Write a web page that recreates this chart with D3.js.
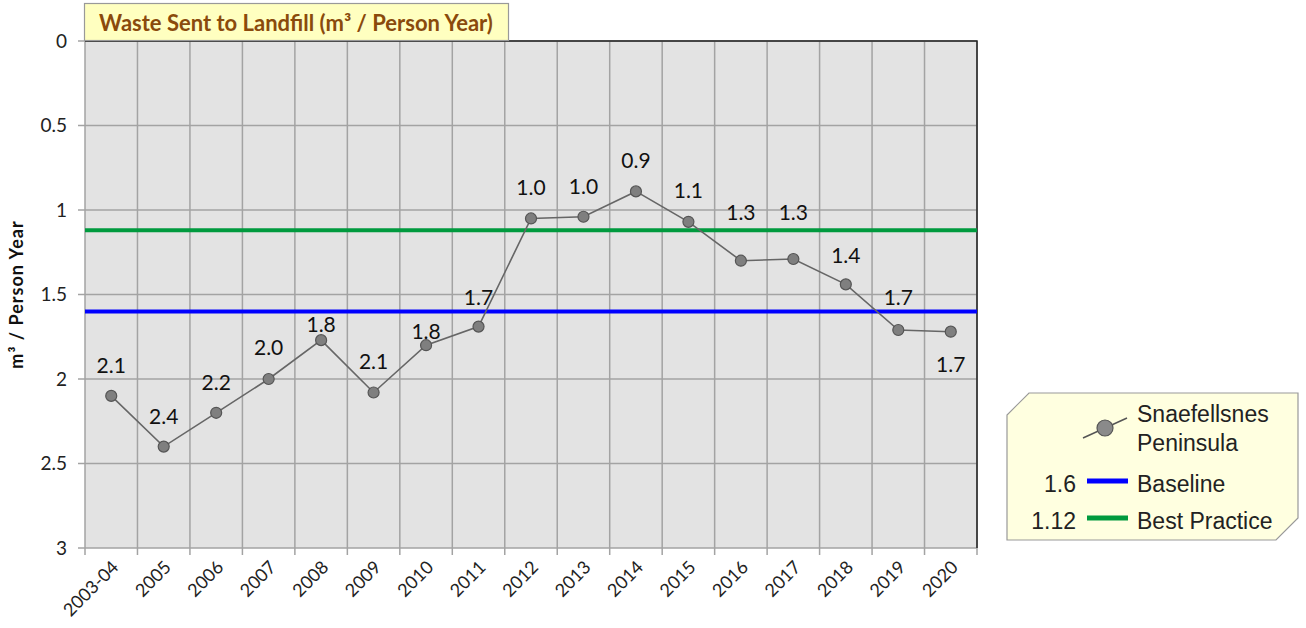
<!DOCTYPE html>
<html>
<head>
<meta charset="utf-8">
<script src="https://cdn.jsdelivr.net/npm/d3@7"></script>
<style>
	body { margin: 0; background: #fff; }
	svg { display: block; }
</style>
</head>
<body>
<div id="chart"></div>
<script>

// categories + values
var years = ["2003-04","2005","2006","2007","2008","2009","2010","2011","2012",
	"2013","2014","2015","2016","2017","2018","2019","2020"];
var waste = [2.10,2.40,2.20,2.00,1.77,2.08,1.80,1.69,1.05,1.04,0.89,1.07,1.30,1.29,1.44,1.71,1.72];
var valueLabels = ["2.1","2.4","2.2","2.0","1.8","2.1","1.8","1.7","1.0","1.0","0.9","1.1","1.3","1.3","1.4","1.7","1.7"];
var yTicks = [0,0.5,1,1.5,2,2.5,3];

// reference lines
var baseline = 1.6;
var bestPractice = 1.12;

// label placement (vertical offset of each data label from its point)
var labelOffset = [-30,-30,-30,-31,-15,-31,-14,-29,-31,-30,-31,-31,-48,-46,-29,-32,33];

var width = 1306, height = 628;
var margin = { top: 41, right: 329, bottom: 80, left: 85 };

var calibri = "Lato, 'Open Sans', sans-serif";
var arial = "'Liberation Sans', Arial, sans-serif";

var svg = d3.select("#chart").append("svg")
	.attr("width", width)
	.attr("height", height);

var x = d3.scaleBand()
	.domain(years)
	.range([margin.left, width - margin.right]);

var y = d3.scaleLinear()
	.domain([0, 3])
	.range([margin.top, height - margin.bottom]);	// inverted: 0 at top

var plotW = width - margin.right - margin.left,
	plotH = height - margin.bottom - margin.top;

// plot background
svg.append("rect")
	.attr("x", margin.left).attr("y", margin.top)
	.attr("width", plotW).attr("height", plotH)
	.attr("fill", "#e3e3e3");

// horizontal grid
svg.append("g").selectAll("line").data(yTicks).enter().append("line")
	.attr("x1", margin.left - 7).attr("x2", width - margin.right)
	.attr("y1", function(d){ return y(d) }).attr("y2", function(d){ return y(d) })
	.attr("stroke", "#a3a3a3").attr("stroke-width", 1.5);

// vertical grid (category boundaries) + ticks below
var bounds = years.map(function(d){ return x(d) }).concat([width - margin.right]);
svg.append("g").selectAll("line").data(bounds).enter().append("line")
	.attr("x1", function(d){ return d }).attr("x2", function(d){ return d })
	.attr("y1", margin.top).attr("y2", height - margin.bottom + 7)
	.attr("stroke", "#a3a3a3").attr("stroke-width", 1.5);

// dark top + right border
svg.append("path")
	.attr("d", "M" + margin.left + "," + margin.top + "H" + (width - margin.right) + "V" + (height - margin.bottom))
	.attr("fill", "none").attr("stroke", "#222").attr("stroke-width", 1.5);

// y tick labels
svg.append("g").selectAll("text").data(yTicks).enter().append("text")
	.attr("x", 67).attr("y", function(d){ return y(d) })
	.attr("dy", "0.35em")
	.attr("text-anchor", "end")
	.style("font-family", calibri)
	.style("font-size", "19px")
	.attr("fill", "#222")
	.text(function(d){ return d });

// x tick labels
svg.append("g").selectAll("text").data(years).enter().append("text")
	.attr("transform", function(d){ return "translate(" + (x(d) + x.bandwidth()/2 + 4) + "," + (height - margin.bottom + 16) + ") rotate(-45)" })
	.attr("text-anchor", "end")
	.attr("dy", "0.35em")
	.style("font-family", calibri)
	.style("font-size", "18px")
	.attr("fill", "#222")
	.text(function(d){ return d });

// y axis title
svg.append("text")
	.attr("transform", "translate(23," + (margin.top + plotH/2) + ") rotate(-90)")
	.attr("text-anchor", "middle")
	.style("font-family", calibri)
	.style("font-size", "18px")
	.style("font-weight", "bold")
	.style("letter-spacing", "1px")
	.attr("fill", "#111")
	.text("m³ / Person Year");

// reference lines
svg.append("line")
	.attr("x1", margin.left).attr("x2", width - margin.right)
	.attr("y1", y(bestPractice)).attr("y2", y(bestPractice))
	.attr("stroke", "#009a3e").attr("stroke-width", 4);
svg.append("line")
	.attr("x1", margin.left).attr("x2", width - margin.right)
	.attr("y1", y(baseline)).attr("y2", y(baseline))
	.attr("stroke", "#0000ff").attr("stroke-width", 4);

// series
var cx = function(d,i){ return x(years[i]) + x.bandwidth()/2 };
var line = d3.line()
	.x(function(d,i){ return cx(d,i) })
	.y(function(d){ return y(d) });

svg.append("path")
	.datum(waste)
	.attr("d", line)
	.attr("fill", "none")
	.attr("stroke", "#666")
	.attr("stroke-width", 1.6);

svg.append("g").selectAll("circle").data(waste).enter().append("circle")
	.attr("cx", cx)
	.attr("cy", function(d){ return y(d) })
	.attr("r", 5.5)
	.attr("fill", "#7f7f7f")
	.attr("stroke", "#555")
	.attr("stroke-width", 1.2);

// data labels
svg.append("g").selectAll("text").data(waste).enter().append("text")
	.attr("x", cx)
	.attr("y", function(d,i){ return y(d) + labelOffset[i] })
	.attr("dy", "0.35em")
	.attr("text-anchor", "middle")
	.style("font-family", calibri)
	.style("font-size", "21px")
	.attr("fill", "#111")
	.text(function(d,i){ return valueLabels[i] });

// title box
var title = svg.append("g");
title.append("rect")
	.attr("x", 84.5).attr("y", 3.5)
	.attr("width", 424).attr("height", 37)
	.attr("fill", "#ffffc0")
	.attr("stroke", "#999").attr("stroke-width", 1.2);
title.append("text")
	.attr("x", 296).attr("y", 23)
	.attr("dy", "0.35em")
	.attr("text-anchor", "middle")
	.style("font-family", calibri)
	.style("font-size", "22px")
	.style("font-weight", "bold")
	.attr("fill", "#8a4a0c")
	.text("Waste Sent to Landfill (m³ / Person Year)");

// legend
var lg = svg.append("g");
var lx0 = 1007, ly0 = 393, lx1 = 1298, ly1 = 540, cut = 22;
lg.append("path")
	.attr("d", "M" + (lx0 + cut) + "," + ly0 + "H" + lx1 + "V" + (ly1 - cut) + "L" + (lx1 - cut) + "," + ly1 +
		"H" + lx0 + "V" + (ly0 + cut) + "Z")
	.attr("fill", "#ffffe0")
	.attr("stroke", "#999").attr("stroke-width", 1.2);

lg.append("line")
	.attr("x1", 1083).attr("y1", 438).attr("x2", 1127).attr("y2", 418)
	.attr("stroke", "#555").attr("stroke-width", 1.5);
lg.append("circle")
	.attr("cx", 1105).attr("cy", 428).attr("r", 8)
	.attr("fill", "#8a8a8a").attr("stroke", "#555").attr("stroke-width", 1.2);
lg.append("text").attr("x", 1137).attr("y", 422)
	.style("font-family", arial).style("font-size", "23px").attr("fill", "#222")
	.text("Snaefellsnes");
lg.append("text").attr("x", 1137).attr("y", 451)
	.style("font-family", arial).style("font-size", "23px").attr("fill", "#222")
	.text("Peninsula");

var refItems = [
	{ value: baseline, name: "Baseline", color: "#0000ff", y: 481 },
	{ value: bestPractice, name: "Best Practice", color: "#009a3e", y: 518 }
];
refItems.forEach(function(r){
	lg.append("text").attr("x", 1076).attr("y", r.y + 3).attr("dy", "0.35em")
		.attr("text-anchor", "end")
		.style("font-family", arial).style("font-size", "23px").attr("fill", "#222")
		.text(r.value);
	lg.append("line")
		.attr("x1", 1087).attr("x2", 1128).attr("y1", r.y).attr("y2", r.y)
		.attr("stroke", r.color).attr("stroke-width", 5);
	lg.append("text").attr("x", 1137).attr("y", r.y + 3).attr("dy", "0.35em")
		.style("font-family", arial).style("font-size", "23px").attr("fill", "#222")
		.text(r.name);
});

</script>
</body>
</html>
